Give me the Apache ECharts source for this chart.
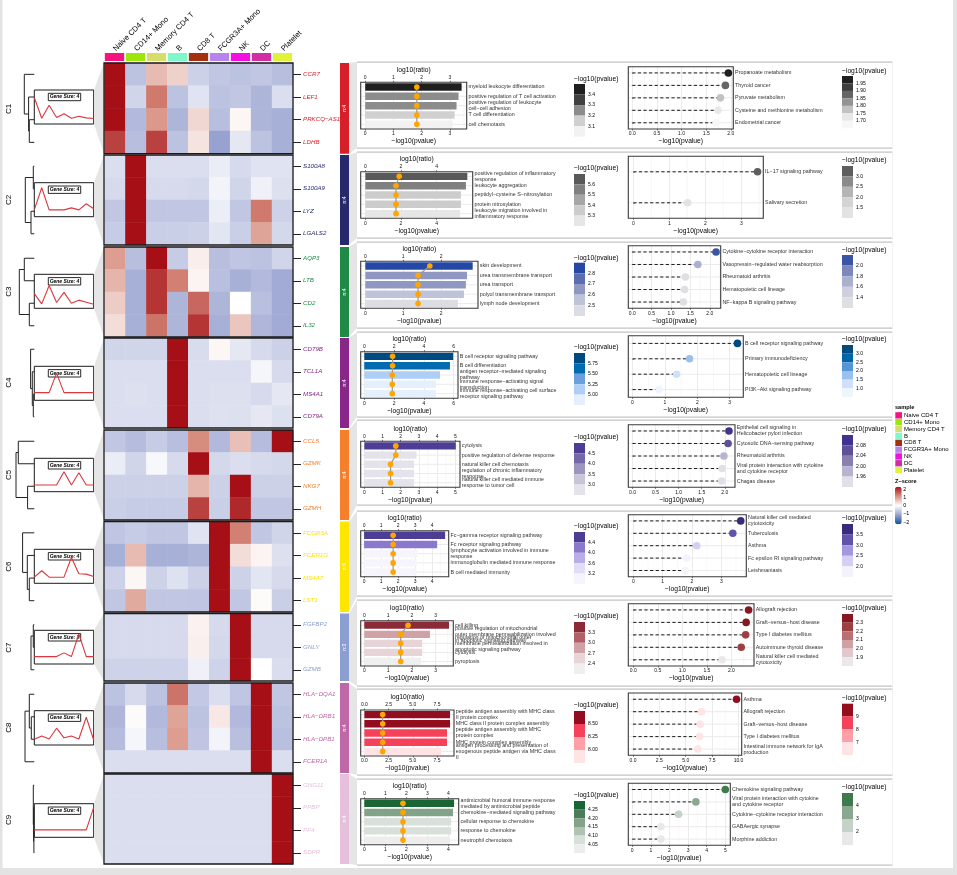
<!DOCTYPE html>
<html><head><meta charset="utf-8">
<style>html,body{margin:0;padding:0;background:#fff}#c{width:957px;height:875px}</style>
<script src="https://cdn.jsdelivr.net/npm/echarts@6/dist/echarts.min.js"></script>
</head><body><div id="c"></div>
<script>
// ---------- data ----------
const sampleNames=['Naive CD4 T','CD14+ Mono','Memory CD4 T','B','CD8 T','FCGR3A+ Mono','NK','DC','Platelet'];
const clusterNames=['C1','C2','C3','C4','C5','C6','C7','C8','C9'];
const clusterSizes=['n:4','n:4','n:4','n:4','n:4','n:4','n:3','n:4','n:4'];
const geneSizes=['Gene Size: 4','Gene Size: 4','Gene Size: 4','Gene Size: 4','Gene Size: 4','Gene Size: 4','Gene Size: 3','Gene Size: 4','Gene Size: 4'];

const genes1=['CCR7','LEF1','PRKCQ−AS1','LDHB'];
const genes2=['S100A8','S100A9','LYZ','LGALS2'];
const genes3=['AQP3','LTB','CD2','IL32'];
const genes4=['CD79B','TCL1A','MS4A1','CD79A'];
const genes5=['CCL5','GZMK','NKG7','GZMH'];
const genes6=['FCGR3A','FCER1G','MS4A7','LST1'];
const genes7=['FGFBP2','GNLY','GZMB'];
const genes8=['HLA−DQA1','HLA−DRB1','HLA−DPB1','FCER1A'];
const genes9=['GNG11','PPBP','PF4','SDPR'];

const heat1=[[2,-.65,.6,.4,-.5,-.6,-.65,-.6,-.7],[2,-.45,1.15,-.65,-.3,-.65,-.6,-.8,-.35],[2,-.75,.9,-.8,.35,-.7,.08,-.8,-.85],[1.6,-.7,1.6,-.65,.25,-1,-.25,-.65,-.85]];
const heat2=[[-.35,2,-.35,-.35,-.35,-.2,-.4,-.3,-.3],[-.4,2,-.4,-.4,-.42,-.12,-.45,-.15,-.33],[-.6,2,-.6,-.6,-.6,-.18,-.6,1.15,-.48],[-.55,2,-.52,-.52,-.5,-.28,-.52,.8,-.42]];
const heat3=[[.85,-.7,2,-.55,.15,-.7,-.62,-.65,-.45],[.65,-.85,1.7,1.1,.1,-.68,-.85,-.75,-.9],[.45,-.85,1.7,-.8,1.3,-.8,0,-.68,-.9],[.3,-.85,1.2,-.8,1.7,-.85,.5,-.78,-.9]];
const heat4=[[-.45,-.45,-.45,2,-.38,.08,-.25,-.4,-.5],[-.35,-.35,-.35,2,-.35,-.35,-.35,-.1,-.4],[-.35,-.33,-.35,2,-.35,-.33,-.33,-.4,-.25],[-.36,-.35,-.35,2,-.35,-.32,-.33,-.25,-.33]];
const heat5=[[-.6,-.72,-.55,-.7,1,-.75,.55,-.72,2],[-.2,-.45,-.08,-.4,2,-.42,-.35,-.4,-.42],[-.5,-.5,-.5,-.5,.65,-.5,2,-.5,-.5],[-.52,-.55,-.55,-.55,1.6,-.52,1.8,-.6,-.6]];
const heat6=[[-.62,-.55,-.6,-.6,-.3,2,1.1,-.6,-.45],[-.85,.6,-.85,-.85,-.8,2,.3,.1,-.33],[-.48,.08,-.48,-.32,-.5,2,-.48,-.28,-.4],[-.6,.75,-.6,-.6,-.62,2,-.6,.04,-.52]];
const heat7=[[-.4,-.4,-.4,-.4,.12,-.4,2,-.4,-.4],[-.4,-.4,-.4,-.4,.14,-.42,2,-.4,-.4],[-.47,-.47,-.47,-.47,-.15,-.47,2,0,-.37]];
const heat8=[[-.65,-.4,-.65,1.2,-.58,-.35,-.62,2,-.6],[-.78,.04,-.75,.8,-.65,.2,-.75,2,-.65],[-.72,-.1,-.7,.85,-.62,-.12,-.68,2,-.68],[-.35,-.35,-.35,-.35,-.35,-.35,-.35,2,-.35]];
const heat9=[[-.35,-.35,-.35,-.35,-.35,-.35,-.35,-.35,2],[-.35,-.35,-.35,-.35,-.35,-.35,-.35,-.35,2],[-.35,-.35,-.35,-.35,-.35,-.35,-.35,-.35,2],[-.35,-.35,-.35,-.35,-.35,-.35,-.35,-.35,2]];

// trend lines of the small insets, read as 0..1 of the inset height
const trend1=[.78,.17,.55,.19,.30,.17,.23,.18,.16];
const trend2=[.2,.85,.2,.2,.2,.26,.2,.38,.235];
const trend3=[.43,.13,.67,.17,.47,.15,.24,.18,.12];
const trend4=[.225,.225,.225,.8,.225,.225,.225,.225,.225];
const trend5=[.2,.2,.2,.2,.6,.2,.57,.2,.2];
const trend6=[.18,.37,.18,.18,.18,.76,.28,.27,.2];
const trend7=[.22,.22,.22,.22,.33,.22,.89,.22,.22];
const trend8=[.165,.26,.175,.49,.21,.26,.175,.81,.145];
const trend9=[.22,.22,.22,.22,.22,.22,.22,.22,.89];

// dendrograms: [height, left child, right child]; a child is a row index or a nested merge
const tree1=[10,0,[5.7,1,[5,2,3]]];
const tree2=[9,[1,0,1],[3.3,2,3]];
const tree3=[15,[10,0,1],[5,2,3]];
const tree4=[3.7,0,[2,1,[1,2,3]]];
const tree5=[18.3,[16,0,1],[6.7,2,3]];
const tree6=[11.7,0,[7,1,[5,2,3]]];
const tree7=[3.3,[1,0,1],2];
const tree8=[9.3,[5,0,[3,1,2]],3];
const tree9=[1,0,[.7,1,[.4,2,3]]];

// GO terms
const goTerms1=['myeloid leukocyte differentiation','positive regulation of T cell activation','positive regulation of leukocyte\ncell−cell adhesion','T cell differentiation','cell chemotaxis'];
const goP1=[3.42,3.31,3.24,3.17,3.1], goRatio1=[1.83,1.83,1.83,1.83,1.83], goLevel1=[0,2,2,3,4], goBreaks1=['3.4','3.3','3.2','3.1'];
const goTerms2=['positive regulation of inflammatory\nresponse','leukocyte aggregation','peptidyl−cysteine S−nitrosylation','protein nitrosylation','leukocyte migration involved in\ninflammatory response'];
const goP2=[5.72,5.64,5.36,5.36,5.31], goRatio2=[1.9,1.72,1.72,1.72,1.72], goLevel2=[0,1,3,3,4], goBreaks2=['5.6','5.5','5.4','5.3'];
const goTerms3=['skin development','urea transmembrane transport','urea transport','polyol transmembrane transport','lymph node development'];
const goP3=[2.83,2.68,2.65,2.6,2.44], goRatio3=[1.7,1.39,1.39,1.39,1.39], goLevel3=[0,2,2,3,4], goBreaks3=['2.8','2.7','2.6','2.5'];
const goTerms4=['B cell receptor signaling pathway','B cell differentiation','antigen receptor−mediated signaling\npathway','immune response−activating signal\ntransduction','immune response−activating cell surface\nreceptor signaling pathway'];
const goP4=[5.97,5.75,5.08,4.81,4.81], goRatio4=[1.9,1.9,1.88,1.88,1.88], goLevel4=[0,1,3,4,4], goBreaks4=['5.75','5.50','5.25','5.00'];
const goTerms5=['cytolysis','positive regulation of defense response','natural killer cell chemotaxis','regulation of chronic inflammatory\nresponse','natural killer cell mediated immune\nresponse to tumor cell'];
const goP5=[5.03,2.87,2.73,2.73,2.73], goRatio5=[1.73,1.73,1.44,1.44,1.44], goLevel5=[0,4,4,4,4], goBreaks5=['4.5','4.0','3.5','3.0'];
const goTerms6=['Fc−gamma receptor signaling pathway','Fc receptor signaling pathway','lymphocyte activation involved in immune\nresponse','immunoglobulin mediated immune response','B cell mediated immunity'];
const goP6=[4.77,4.3,3.15,3.09,3.09], goRatio6=[1.71,1.71,1.71,1.71,1.71], goLevel6=[0,1,4,4,4], goBreaks6=['4.4','4.0','3.6','3.2'];
const goTerms7=['cell killing','positive regulation of mitochondrial\nouter membrane permeabilization involved\nin apoptotic signaling pathway','regulation of mitochondrial outer\nmembrane permeabilization involved in\napoptotic signaling pathway','cytolysis','pyroptosis'];
const goP7=[3.56,2.76,2.43,2.43,2.38], goRatio7=[1.84,1.53,1.53,1.53,1.53], goLevel7=[0,2,3,3,4], goBreaks7=['3.3','3.0','2.7','2.4'];
const goTerms8=['peptide antigen assembly with MHC class\nII protein complex','MHC class II protein complex assembly','peptide antigen assembly with MHC\nprotein complex','MHC protein complex assembly','antigen processing and presentation of\nexogenous peptide antigen via MHC class\nII'];
const goP8=[8.84,8.84,8.53,8.53,7.91], goRatio8=[1.89,1.89,1.89,1.89,1.89], goLevel8=[0,0,1,1,3], goBreaks8=['8.50','8.25','8.00'];
const goTerms9=['antimicrobial humoral immune response\nmediated by antimicrobial peptide','chemokine−mediated signaling pathway','cellular response to chemokine','response to chemokine','neutrophil chemotaxis'];
const goP9=[4.27,4.22,4.13,4.13,4.08], goRatio9=[1.84,1.84,1.84,1.84,1.84], goLevel9=[0,2,4,4,5], goBreaks9=['4.25','4.20','4.15','4.10','4.05'];

// KEGG terms
const keggTerms1=['Propanoate metabolism','Thyroid cancer','Pyruvate metabolism','Cysteine and methionine metabolism','Endometrial cancer'];
const keggP1=[1.95,1.89,1.79,1.74,1.7], keggLevel1=[0,2,4,5,6], keggBreaks1=['1.95','1.90','1.85','1.80','1.75','1.70'];
const keggTerms2=['IL−17 signaling pathway','Salivary secretion'];
const keggP2=[3.45,1.51], keggLevel2=[0,4], keggBreaks2=['3.0','2.5','2.0','1.5'];
const keggTerms3=['Cytokine−cytokine receptor interaction','Vasopressin−regulated water reabsorption','Rheumatoid arthritis','Hematopoietic cell lineage','NF−kappa B signaling pathway'];
const keggP3=[2.16,1.69,1.37,1.35,1.32], keggLevel3=[0,2,4,4,4], keggBreaks3=['2.0','1.8','1.6','1.4'];
const keggTerms4=['B cell receptor signaling pathway','Primary immunodeficiency','Hematopoietic cell lineage','PI3K−Akt signaling pathway'];
const keggP4=[3.24,1.76,1.36,.82], keggLevel4=[0,3,4,5], keggBreaks4=['3.0','2.5','2.0','1.5','1.0'];
const keggTerms5=['Epithelial cell signaling in\nHelicobacter pylori infection','Cytosolic DNA−sensing pathway','Rheumatoid arthritis','Viral protein interaction with cytokine\nand cytokine receptor','Chagas disease'];
const keggP5=[2.09,2.07,1.98,1.94,1.93], keggLevel5=[0,1,3,4,4], keggBreaks5=['2.08','2.04','2.00','1.96'];
const keggTerms6=['Natural killer cell mediated\ncytotoxicity','Tuberculosis','Asthma','Fc epsilon RI signaling pathway','Leishmaniasis'];
const keggP6=[3.66,3.39,2.16,1.82,1.77], keggLevel6=[0,1,3,4,4], keggBreaks6=['3.5','3.0','2.5','2.0'];
const keggTerms7=['Allograft rejection','Graft−versus−host disease','Type I diabetes mellitus','Autoimmune thyroid disease','Natural killer cell mediated\ncytotoxicity'];
const keggP7=[2.35,2.3,2.29,2.2,1.81], keggLevel7=[0,0,1,1,5], keggBreaks7=['2.3','2.2','2.1','2.0','1.9'];
const keggTerms8=['Asthma','Allograft rejection','Graft−versus−host disease','Type I diabetes mellitus','Intestinal immune network for IgA\nproduction'];
const keggP8=[9.81,6.49,6.36,6.3,6.14], keggLevel8=[0,3,3,3,3], keggBreaks8=['9','8','7'];
const keggTerms9=['Chemokine signaling pathway','Viral protein interaction with cytokine\nand cytokine receptor','Cytokine−cytokine receptor interaction','GABAergic synapse','Morphine addiction'];
const keggP9=[5,3.42,2.49,1.54,1.54], keggLevel9=[0,1,2,3,3], keggBreaks9=['4','3','2'];

// ---------- styles ----------
const sampleColors=['#F7137F','#9DE60C','#D6DD6A','#7EF8C8','#A3300E','#B884EC','#F20FE0','#D12EA5','#E0F23A'];
const clusterColors=['#D71F2A','#262A6B','#1F8A46','#892689','#F57F2A','#FFE600','#8A9ED1','#BF68A8','#E6BFDC'];
const goPalettes=[
 ['#1F1F1F','#404040','#8C8C8C','#D0D0D0','#F2F2F2'],
 ['#595959','#808080','#A6A6A6','#CCCCCC','#E6E6E6'],
 ['#2648A5','#5B6CB1','#8F98C1','#BFC3DA','#DCDDE3'],
 ['#004A82','#006BB0','#6BA0DC','#AFCEF5','#E4F0FD'],
 ['#4E3D94','#7568A8','#9C95BF','#C8C5D9','#E4E3EB'],
 ['#4E3D94','#8A78CC','#B9AFE6','#E1DCF7','#F6F4FC'],
 ['#8C2B37','#B26068','#CFA2A6','#E6D4D6','#EFEFEF'],
 ['#920D1F','#F5415A','#FFA0A8','#FFE3E5'],
 ['#1B6534','#4B7D58','#82A388','#B0C3B3','#D9E0DA','#EDEDED']];
const keggPalettes=[
 ['#1F1F1F','#3D3D3D','#666666','#949494','#C2C2C2','#E8E8E8','#F7F7F7'],
 ['#5E5E5E','#8A8A8A','#B5B5B5','#D4D4D4','#E3E3E3'],
 ['#3A55A5','#7B88BA','#AAB0CF','#CDD0DD','#DEDFE2'],
 ['#004A82','#0066A8','#5596D6','#9CC0EE','#CFE1FA','#EEF5FC'],
 ['#43318F','#5F5098','#8A80B0','#B8B3CF','#E1DFE8'],
 ['#392A7C','#6153AC','#A398DD','#D6CFF3','#F4F2FD'],
 ['#84191F','#9E3F44','#B96F73','#CEA1A4','#E1C8CA','#ECE7E8'],
 ['#920D1F','#F5415A','#FFA0A8','#FFE3E5'],
 ['#3F7A4F','#8BA88E','#C5D2C7','#E6E9E6']];

// ---------- layout ----------
const FONT='"Liberation Sans",Arial,sans-serif';
const heatY=[[63,153.7],[155,245],[247,337],[338,428],[430,520],[521.5,612],[613.5,681],[683,773],[774,864]];
const insetY=[[90,124],[182.7,216.7],[274.3,308.3],[366.3,400.3],[458.3,491.7],[549.3,583.3],[630.3,664],[710.7,745],[803.7,837.3]];
const clusterLabelY=[109,200,291.7,382.7,475,566.7,647.7,727.7,820];
const panelY=[[62,148],[152,238],[242,328],[332,417],[420,505],[511,596],[600,686],[689,775],[779,865]];
const goFrame=[
 {x:[360.7,466.7],y:[82.3,129],r:[-.16,3.6],t:[0,1,2,3],d:0},
 {x:[360.7,472.7],y:[171.7,218.3],r:[-.26,6.02],t:[0,2,4],d:0},
 {x:[360.7,478],y:[261.3,308.3],r:[-.122,2.97],t:[0,1,2],d:0},
 {x:[360.7,458],y:[351.7,398.3],r:[-.24,6.29],t:[0,2,4,6],d:0},
 {x:[360.7,460],y:[441.3,487.3],r:[-.2,5.26],t:[0,1,2,3,4,5],d:0},
 {x:[360.7,448.7],y:[530.7,576.7],r:[-.2,4.98],t:[0,1,2,3,4],d:0},
 {x:[360.7,453.3],y:[620.7,666],r:[-.15,3.74],t:[0,1,2,3],d:0},
 {x:[360.7,454],y:[710,756],r:[-.38,9.25],t:[0,2.5,5,7.5],d:1},
 {x:[360.7,458.7],y:[798.7,844.7],r:[-.17,4.49],t:[0,1,2,3,4],d:0}];
const keggFrame=[
 {x:[628.3,733.3],y:[66.7,129],r:[-.08,2.05],t:[0,.5,1,1.5,2],d:1},
 {x:[628.3,763.3],y:[156.3,218.3],r:[-.14,3.61],t:[0,1,2,3],d:0},
 {x:[628.3,720.7],y:[245.7,308.3],r:[-.1,2.28],t:[0,.5,1,1.5,2],d:1},
 {x:[628.3,743.3],y:[335.7,397.3],r:[-.13,3.42],t:[0,1,2,3],d:0},
 {x:[628.3,735],y:[424.7,487.3],r:[-.09,2.22],t:[0,.5,1,1.5,2],d:1},
 {x:[628.3,746.3],y:[514.7,576.7],r:[-.17,3.85],t:[0,1,2,3],d:0},
 {x:[628.3,754],y:[603.7,666],r:[-.1,2.46],t:[0,.5,1,1.5,2],d:1},
 {x:[628.3,741.7],y:[693,755.3],r:[-.44,10.3],t:[0,2.5,5,7.5,10],d:1},
 {x:[628.3,730.3],y:[783.3,845.3],r:[-.21,5.27],t:[0,1,2,3,4,5],d:0}];
const goLegendY=[[84,136.7,78.7],[174,226,167.7],[262.7,316,257.7],[353,405,346.7],[443,495,436.7],[532,584,525.7],[622,674,615.7],[711,763,704.7],[801,853,794.7]];
const keggLegendY=[[76,128.3,70.7],[166,218,159.7],[255,308,250],[345,397,338.7],[435,487,428.7],[524,577,518],[614,666,607.7],[703.7,755,697.7],[793,845,786.7]];

// ---------- table built from the arrays ----------
const clusters=[
 {genes:genes1,heat:heat1,trend:trend1,tree:tree1,goT:goTerms1,goP:goP1,goR:goRatio1,goL:goLevel1,goB:goBreaks1,kT:keggTerms1,kP:keggP1,kL:keggLevel1,kB:keggBreaks1},
 {genes:genes2,heat:heat2,trend:trend2,tree:tree2,goT:goTerms2,goP:goP2,goR:goRatio2,goL:goLevel2,goB:goBreaks2,kT:keggTerms2,kP:keggP2,kL:keggLevel2,kB:keggBreaks2},
 {genes:genes3,heat:heat3,trend:trend3,tree:tree3,goT:goTerms3,goP:goP3,goR:goRatio3,goL:goLevel3,goB:goBreaks3,kT:keggTerms3,kP:keggP3,kL:keggLevel3,kB:keggBreaks3},
 {genes:genes4,heat:heat4,trend:trend4,tree:tree4,goT:goTerms4,goP:goP4,goR:goRatio4,goL:goLevel4,goB:goBreaks4,kT:keggTerms4,kP:keggP4,kL:keggLevel4,kB:keggBreaks4},
 {genes:genes5,heat:heat5,trend:trend5,tree:tree5,goT:goTerms5,goP:goP5,goR:goRatio5,goL:goLevel5,goB:goBreaks5,kT:keggTerms5,kP:keggP5,kL:keggLevel5,kB:keggBreaks5},
 {genes:genes6,heat:heat6,trend:trend6,tree:tree6,goT:goTerms6,goP:goP6,goR:goRatio6,goL:goLevel6,goB:goBreaks6,kT:keggTerms6,kP:keggP6,kL:keggLevel6,kB:keggBreaks6},
 {genes:genes7,heat:heat7,trend:trend7,tree:tree7,goT:goTerms7,goP:goP7,goR:goRatio7,goL:goLevel7,goB:goBreaks7,kT:keggTerms7,kP:keggP7,kL:keggLevel7,kB:keggBreaks7},
 {genes:genes8,heat:heat8,trend:trend8,tree:tree8,goT:goTerms8,goP:goP8,goR:goRatio8,goL:goLevel8,goB:goBreaks8,kT:keggTerms8,kP:keggP8,kL:keggLevel8,kB:keggBreaks8},
 {genes:genes9,heat:heat9,trend:trend9,tree:tree9,goT:goTerms9,goP:goP9,goR:goRatio9,goL:goLevel9,goB:goBreaks9,kT:keggTerms9,kP:keggP9,kL:keggLevel9,kB:keggBreaks9}];

// ---------- builders ----------
const grid=[],xAxis=[],yAxis=[],series=[],graphic=[],heatSeries=[];
function box(x0,x1,y0,y1,extra){grid.push(Object.assign({left:x0,top:y0,width:x1-x0,height:y1-y0,containLabel:false},extra||{}));return grid.length-1;}
function rect(x,y,w,h,fill,z){graphic.push({type:'rect',silent:true,z:z||0,shape:{x,y,width:w,height:h},style:{fill}});}
function frame(x0,x1,y0,y1){graphic.push({type:'rect',silent:true,z:30,shape:{x:x0,y:y0,width:x1-x0,height:y1-y0},style:{fill:'none',stroke:'#3A3A3A',lineWidth:1.1}});}
function text(t,x,y,size,opt){opt=opt||{};graphic.push({type:'text',silent:true,z:opt.z||20,x,y,rotation:opt.rot||0,style:{text:t,fontSize:size,fontFamily:FONT,fontWeight:opt.w||'normal',fontStyle:opt.i?'italic':'normal',fill:opt.c||'#000',textAlign:opt.a||'left',textVerticalAlign:'middle'}});}
function treeSegs(node,segs){
  if(typeof node==='number')return{h:0,y:node+.5};
  const a=treeSegs(node[1],segs),b=treeSegs(node[2],segs),h=node[0];
  segs.push([a.h,a.y,h,a.y],[b.h,b.y,h,b.y],[h,a.y,h,b.y]);
  return{h,y:(a.y+b.y)/2};
}
function segmentSeries(g,segs,stroke,w,dash,z){
  series.push({type:'custom',xAxisIndex:g.x,yAxisIndex:g.y,silent:true,z:z||2,clip:true,data:segs,encode:{x:[0,2],y:[1,3]},animation:false,
    renderItem:(p,api)=>{const a=api.coord([api.value(0),api.value(1)]),b=api.coord([api.value(2),api.value(3)]);
      return{type:'line',shape:{x1:a[0],y1:a[1],x2:b[0],y2:b[1]},style:{stroke,lineWidth:w,lineDash:dash||null,fill:null}};}});
}
function minorValues(f){const step=f.t[1]-f.t[0],out=[];for(let v=f.t[0]-step/2;v<f.r[1];v+=step){if(v>f.r[0])out.push(v);}return out;}
function valueAxis(f,gi,pos,name,show){
  return{type:'value',gridIndex:gi,position:pos,min:f.r[0],max:f.r[1],name:name,nameLocation:'middle',nameGap:9,
   nameTextStyle:{fontSize:6.7,fontFamily:FONT,color:'#000'},
   axisLine:{show:false},axisTick:{show:true,length:1.5,customValues:f.t,lineStyle:{color:'#333',width:.7}},
   axisLabel:{customValues:f.t,fontSize:5,fontFamily:FONT,color:'#111',margin:2.5,formatter:v=>v.toFixed(f.d)},
   splitLine:{show:show,lineStyle:{color:'#EBEBEB',width:1}}};
}
function categoryAxis(gi,terms){
  return{type:'category',gridIndex:gi,position:'right',inverse:true,data:terms,
   axisLine:{show:false},axisTick:{show:true,length:1.5,alignWithLabel:true,lineStyle:{color:'#333',width:.7}},
   axisLabel:{interval:0,fontSize:5.35,lineHeight:6,fontFamily:FONT,color:'#333',margin:1.8},splitLine:{show:false}};
}
function frameBackground(ax,ay,f,n){
  const segs=[];minorValues(f).forEach(v=>segs.push([v,-1,v,n]));
  for(let i=0;i<n;i++)segs.push([f.r[0],i,f.r[1],i]);
  series.push({type:'custom',xAxisIndex:ax,yAxisIndex:ay,silent:true,z:1,clip:false,data:segs,animation:false,
    renderItem:(p,api)=>{const x1=api.value(0),y1=api.value(1),x2=api.value(2),y2=api.value(3);
      const r=api.coord([x1,Math.max(y1,0)]),b=api.coord([x2,Math.min(y2,n-1)]);
      if(y1<0){const s=p.coordSys;return{type:'line',shape:{x1:r[0],y1:s.y,x2:r[0],y2:s.y+s.height},style:{stroke:'#F4F4F4',lineWidth:.6}};}
      return{type:'line',shape:{x1:r[0],y1:r[1],x2:b[0],y2:b[1]},style:{stroke:'#EBEBEB',lineWidth:1}};}});
}
function stepLegend(x0,ys,palette,breaks){
  const gi=box(x0,x0+11,ys[0],ys[1]);
  const ax=xAxis.push({type:'value',gridIndex:gi,min:0,max:1,show:false})-1;
  const ay=yAxis.push({type:'value',gridIndex:gi,min:0,max:palette.length,interval:1,inverse:true,position:'right',
     axisLine:{show:false},axisTick:{show:false},splitLine:{show:false},
     axisLabel:{fontSize:5,fontFamily:FONT,color:'#000',margin:3,formatter:v=>breaks[v-1]||''}})-1;
  series.push({type:'custom',xAxisIndex:ax,yAxisIndex:ay,silent:true,animation:false,data:palette.map((c,i)=>[0,i]),
    renderItem:(p,api)=>{const i=api.value(1),a=api.coord([0,i]),b=api.coord([1,i+1]);
      return{type:'rect',shape:{x:a[0],y:a[1],width:b[0]-a[0],height:b[1]-a[1]},style:{fill:palette[i]}};}});
  text('−log10(pvalue)',x0,ys[2],6.7);
}

// page furniture
rect(0,0,2.5,875,'#E3E3E3');rect(953,0,4,875,'#E3E3E3');rect(0,868,957,7,'#E3E3E3');

// sample annotation strip with column labels
{
 const gi=box(104,293,53,61);
 xAxis.push({type:'category',gridIndex:gi,position:'top',data:sampleNames,axisLine:{show:false},axisTick:{show:false},
   axisLabel:{interval:0,rotate:45,fontSize:7.6,fontFamily:FONT,color:'#000',margin:3}});
 yAxis.push({type:'value',gridIndex:gi,min:0,max:1,show:false});
 series.push({type:'bar',xAxisIndex:xAxis.length-1,yAxisIndex:yAxis.length-1,barWidth:'92%',silent:true,animation:false,
   data:sampleNames.map((s,i)=>({value:1,itemStyle:{color:sampleColors[i]}}))});
}

clusters.forEach((c,i)=>{
  const [hy0,hy1]=heatY[i],n=c.genes.length,color=clusterColors[i];
  // side strip and connectors
  rect(340,hy0,9,hy1-hy0,color);
  text(clusterSizes[i],344.5,(hy0+hy1)/2,5,{rot:Math.PI/2,a:'center',c:'#fff'});
  const [py0,py1]=panelY[i];
  graphic.push({type:'polygon',silent:true,z:0,shape:{points:[[349,hy0],[357,py0],[357,py1],[349,hy1]]},style:{fill:'#E5E5E5'}});
  rect(357,py0-.5,535.5,1.2,'#C4C4C4',1);rect(357,py1-.5,535.5,1.2,'#C4C4C4',1);rect(892,py0,.8,py1-py0,'#EFEFEF',1);
  // connector inset -> heatmap
  const [iy0,iy1]=insetY[i];
  graphic.push({type:'polygon',silent:true,z:0,shape:{points:[[94,iy0],[104,hy0],[104,hy1],[94,iy1]]},style:{fill:'#E5E5E5'}});
  // cluster label
  text(clusterNames[i],8.7,clusterLabelY[i],8,{rot:Math.PI/2,a:'center'});
  // heatmap
  let gi=box(104.5,293,hy0,hy1);
  xAxis.push({type:'category',gridIndex:gi,data:sampleNames,show:false});
  yAxis.push({type:'category',gridIndex:gi,data:c.genes,inverse:true,position:'right',
    axisLine:{show:false},axisTick:{show:true,length:8,alignWithLabel:true,lineStyle:{color:'#222',width:1}},splitLine:{show:false},
    axisLabel:{interval:0,fontSize:6.2,fontStyle:'italic',fontFamily:FONT,color,margin:10}});
  const cells=[];c.heat.forEach((r,ri)=>r.forEach((v,ci)=>cells.push([ci,ri,v])));
  heatSeries.push(series.length);
  series.push({type:'heatmap',xAxisIndex:xAxis.length-1,yAxisIndex:yAxis.length-1,data:cells,silent:true,animation:false,progressive:0,itemStyle:{borderWidth:0},emphasis:{disabled:true}});
  graphic.push({type:'rect',silent:true,z:30,shape:{x:104,y:hy0,width:189,height:hy1-hy0},style:{fill:'none',stroke:'#1A1A1A',lineWidth:1.3}});
  // dendrogram
  gi=box(0,34.3,hy0,hy1);
  xAxis.push({type:'value',gridIndex:gi,min:0,max:34.3,inverse:true,show:false});
  yAxis.push({type:'value',gridIndex:gi,min:0,max:n,inverse:true,show:false});
  const segs=[];treeSegs(c.tree,segs);
  segmentSeries({x:xAxis.length-1,y:yAxis.length-1},segs,'#222',1);
  // inset trend line
  gi=box(34.3,93.7,iy0,iy1,{show:true,backgroundColor:'#fff',borderColor:'#1A1A1A',borderWidth:1});
  xAxis.push({type:'category',gridIndex:gi,data:sampleNames,boundaryGap:false,show:false});
  yAxis.push({type:'value',gridIndex:gi,min:0,max:1,show:false});
  const gx=48.3,gy=iy0+3.3;
  graphic.push({type:'rect',silent:true,z:1,shape:{x:gx,y:gy,width:32.4,height:7.4},style:{fill:'#fff',stroke:'#111',lineWidth:.9}});
  text(geneSizes[i],gx+16.2,gy+3.8,5,{a:'center',i:true,w:'bold',z:1});
  series.push({type:'line',xAxisIndex:xAxis.length-1,yAxisIndex:yAxis.length-1,data:c.trend,symbol:'none',silent:true,animation:false,z:3,lineStyle:{color:'#D9383E',width:1.1}});
  // GO bars + lollipop
  const f=goFrame[i],pal=goPalettes[i];
  gi=box(f.x[0],f.x[1],f.y[0],f.y[1]);
  frame(f.x[0],f.x[1],f.y[0],f.y[1]);
  const axBottom=xAxis.push(valueAxis(f,gi,'bottom','−log10(pvalue)',true))-1;
  const axTop=xAxis.push(valueAxis(f,gi,'top','log10(ratio)',false))-1;
  const ay=yAxis.push(categoryAxis(gi,c.goT))-1;
  frameBackground(axBottom,ay,f,c.goT.length);
  series.push({type:'bar',xAxisIndex:axBottom,yAxisIndex:ay,barWidth:'80%',silent:true,animation:false,z:2,
    data:c.goP.map((v,k)=>({value:v,itemStyle:{color:pal[c.goL[k]]}}))});
  series.push({type:'line',xAxisIndex:axTop,yAxisIndex:ay,data:c.goR.map((v,k)=>[v,k]),symbol:'circle',symbolSize:5.6,silent:true,animation:false,z:3,
    lineStyle:{color:'#999',width:1.2},itemStyle:{color:'#FFA500'}});
  stepLegend(574,goLegendY[i],pal,c.goB);
  // KEGG dots
  const kf=keggFrame[i],kpal=keggPalettes[i];
  gi=box(kf.x[0],kf.x[1],kf.y[0],kf.y[1]);
  frame(kf.x[0],kf.x[1],kf.y[0],kf.y[1]);
  const kax=xAxis.push(valueAxis(kf,gi,'bottom','−log10(pvalue)',true))-1;
  const kay=yAxis.push(categoryAxis(gi,c.kT))-1;
  frameBackground(kax,kay,kf,c.kT.length);
  segmentSeries({x:kax,y:kay},c.kP.map((v,k)=>[0,k,v,k]),'#1A1A1A',1,[3.2,2.4],2);
  series.push({type:'scatter',xAxisIndex:kax,yAxisIndex:kay,symbolSize:7.6,silent:true,animation:false,z:3,
    data:c.kP.map((v,k)=>({value:[v,k],itemStyle:{color:kpal[c.kL[k]],opacity:1}}))});
  stepLegend(842,keggLegendY[i],kpal,c.kB);
});

// sample legend
text('sample',895,407,5.6,{w:'bold'});
const legendRowY=[415.3,422.1,429,435.9,442.8,449.6,456.4,463.2,470];
sampleNames.forEach((s,i)=>{rect(895.3,legendRowY[i]-3.1,6.7,6.3,sampleColors[i],5);text(s,904,legendRowY[i],6);});

// Z-score colour bar
text('Z−score',895,481.7,5.6,{w:'bold'});
{
 const gi=box(895,901.7,486.7,524.3);
 xAxis.push({type:'value',gridIndex:gi,min:0,max:1,show:false});
 yAxis.push({type:'value',gridIndex:gi,min:-2.24,max:2.28,position:'right',axisLine:{show:false},splitLine:{show:false},
   axisTick:{show:true,inside:true,length:2,customValues:[-2,-1,0,1,2],lineStyle:{color:'#fff',width:.7}},
   axisLabel:{customValues:[-2,-1,0,1,2],fontSize:5.4,fontFamily:FONT,color:'#000',margin:1.5,formatter:v=>v<0?'−'+(-v):''+v}});
 series.push({type:'line',xAxisIndex:xAxis.length-1,yAxisIndex:yAxis.length-1,data:[],silent:true});
}

const option={animation:false,backgroundColor:'#fff',textStyle:{fontFamily:FONT},grid,xAxis,yAxis,series,graphic:{elements:graphic},
 visualMap:{type:'continuous',min:-2,max:2,seriesIndex:heatSeries,show:true,left:895,top:486.7,itemWidth:6.7,itemHeight:37.6,padding:0,calculable:false,hoverLink:false,text:null,
   inRange:{color:['#08519C','#98A2D0','#FFFFFF','#D78D7E','#A50F15']}}};
const chart=echarts.init(document.getElementById('c'),null,{renderer:'canvas',width:957,height:875});
chart.setOption(option);
</script></body></html>
